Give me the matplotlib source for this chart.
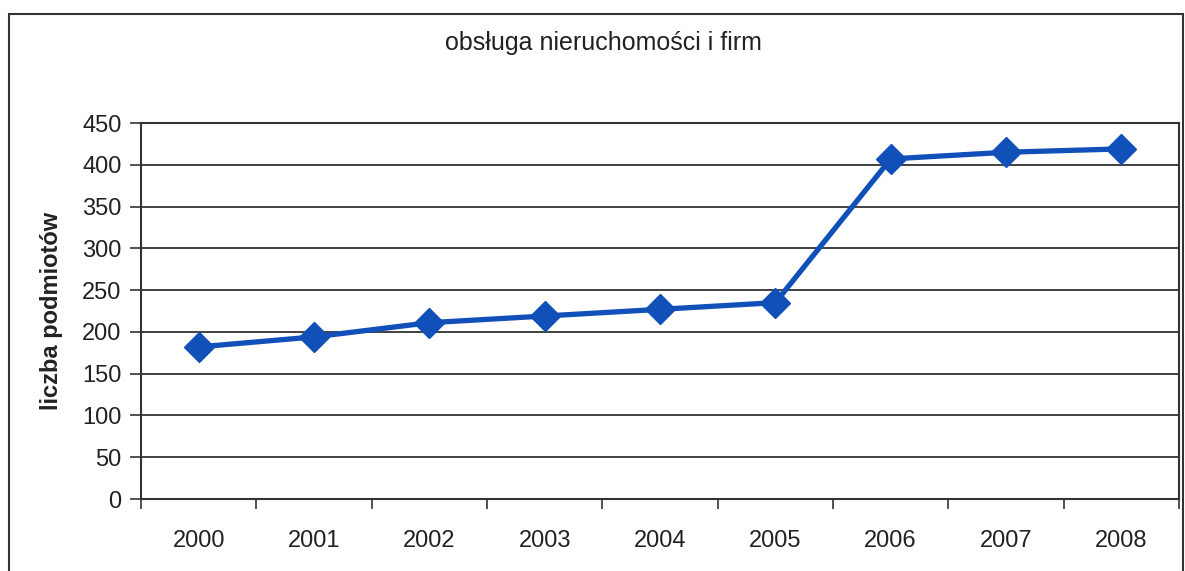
import matplotlib
matplotlib.use("Agg")
import matplotlib.pyplot as plt
from matplotlib.patches import Rectangle

plt.rcParams['font.family'] = ['Liberation Sans', 'DejaVu Sans']

years = ["2000", "2001", "2002", "2003", "2004", "2005", "2006", "2007", "2008"]
counts = [182, 194, 211, 219, 227, 235, 407, 415, 419]
y_ticks = [0, 50, 100, 150, 200, 250, 300, 350, 400, 450]

W, H = 1185, 571
fig = plt.figure(figsize=(W / 100, H / 100), dpi=100)

# outer chart frame (scanned, bottom/right cut off)
fig.patches.append(Rectangle((9 / W, -0.1), (1183 - 9) / W, 1.1 - 14 / H,
                             transform=fig.transFigure, fill=False,
                             edgecolor='#333333', linewidth=1.5))

left, right, top, bottom = 141, 1179, 123, 499
ax = fig.add_axes([left / W, 1 - bottom / H, (right - left) / W, (bottom - top) / H])

x = list(range(len(years)))
ax.plot(x, counts, color='#1150b8', linewidth=3.8, marker='D', markersize=15,
        markerfacecolor='#1150b8', markeredgecolor='#1150b8', zorder=3)

ax.set_xlim(-0.5, len(years) - 0.5)
ax.set_ylim(0, 450)
ax.set_yticks(y_ticks)
ax.set_yticklabels([str(v) for v in y_ticks], fontsize=17, color='#222222')
ax.set_xticks(x)
ax.set_xticklabels(years, fontsize=17, color='#222222')
ax.set_xticks([i - 0.5 for i in range(len(years) + 1)], minor=True)
ax.tick_params(axis='x', which='major', length=0, pad=22)
ax.tick_params(axis='x', which='minor', length=7, width=1.2, direction='out', color='#333333')
ax.tick_params(axis='y', length=8, width=1.2, direction='out', color='#333333', pad=6)

ax.grid(axis='y', color='#333333', linewidth=1.3)
ax.set_axisbelow(True)
for s in ['left', 'bottom', 'right', 'top']:
    ax.spines[s].set_color('#333333')
    ax.spines[s].set_linewidth(1.5)

ax.set_ylabel("liczba podmiotów", fontsize=17, fontweight='bold', color='#222222', labelpad=14)
fig.text(603 / W, 1 - 43 / H, "obsługa nieruchomości i firm", fontsize=18,
         ha='center', va='center', color='#222222')

fig.savefig("out.png", dpi=100)
